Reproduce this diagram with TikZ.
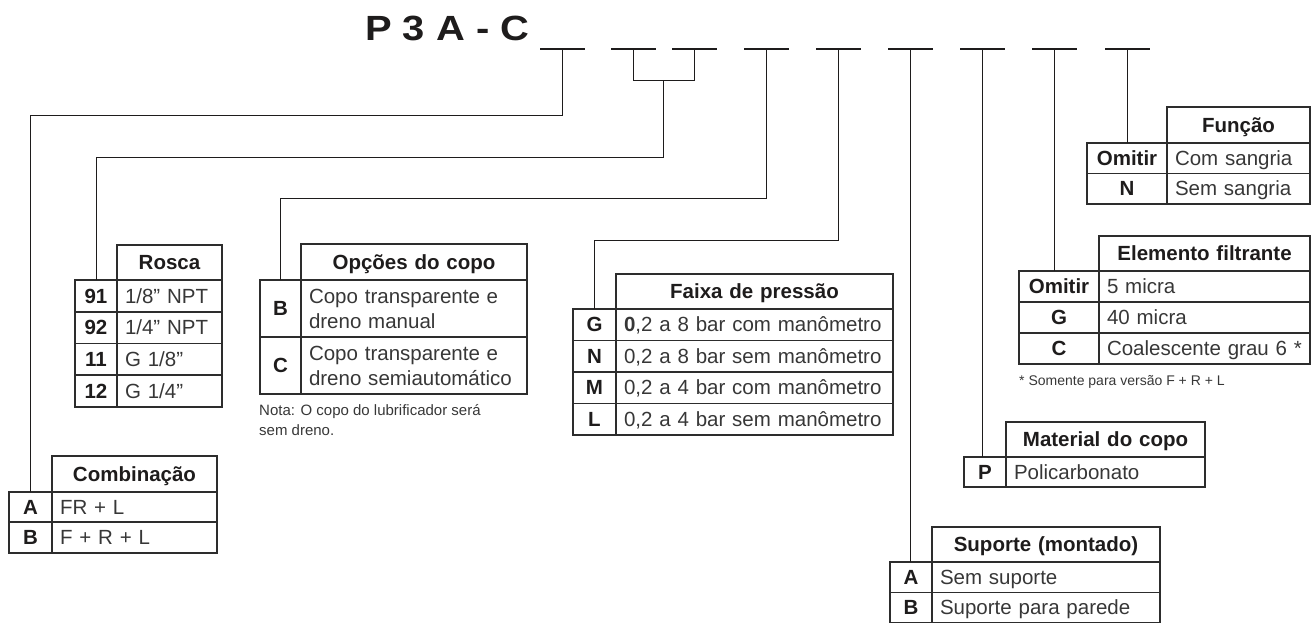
\documentclass[tikz,border=0pt]{standalone}
\usepackage{fontspec}
\usepackage{graphicx}
\setmainfont{Liberation Sans}
\usetikzlibrary{calc}
\definecolor{ink}{RGB}{30,28,28}
\definecolor{linec}{RGB}{45,45,45}
\definecolor{txt}{RGB}{55,55,55}
\newcommand\tabfont{\fontsize{20.5}{23.5}\selectfont}
\newcommand\tabbold{\fontsize{20.5}{23.5}\selectfont\bfseries}
\newcommand\notefont{\fontsize{15}{20}\selectfont}
\newcommand\cellstrut{\rule[-5pt]{0pt}{24pt}}
\newcommand\cellbox[8]{%
  \pgfmathsetmacro\cellW{#4-#2}%
  \pgfmathsetmacro\cellH{#5-#3}%
  \pgfmathsetmacro\cellT{#4-#2-2*#6}%
  \node[tcell,#7,minimum width=\cellW pt,minimum height=\cellH pt,text width=\cellT pt,inner xsep=#6pt] (#1) at (#2,#3) {#8};}
\tikzset{
  tcell/.style={draw=linec, line width=1.2pt, anchor=north west, inner ysep=0pt, outer sep=0pt,
    execute at begin node=\cellstrut, execute at end node=\cellstrut},
  val/.style={align=left, font=\tabfont, text=txt},
  key/.style={align=center, font=\tabbold, text=ink},
  ubar/.style={fill=ink, minimum width=45pt, minimum height=2.6pt, inner sep=0pt, outer sep=0pt},
  conn/.style={draw=ink, line width=1pt},
  notestyle/.style={font=\notefont, text=txt, inner sep=0pt, anchor=base west}
}
\begin{document}
\begin{tikzpicture}[x=1pt,y=-1pt]
\useasboundingbox (0,0) rectangle (1311,623);
% title
\node[font=\fontsize{35}{40}\selectfont\bfseries, text=ink, inner sep=0pt, anchor=base west] (title) at (365,41) {\scalebox{1.14}[1]{P 3 A - C}};
% underscores
\node[ubar] (d1) at (562,49) {};
\node[ubar] (d2) at (633,49) {};
\node[ubar] (d3) at (694,49) {};
\node[ubar] (d4) at (766,49) {};
\node[ubar] (d5) at (838,49) {};
\node[ubar] (d6) at (910,49) {};
\node[ubar] (d7) at (982,49) {};
\node[ubar] (d8) at (1054,49) {};
\node[ubar] (d9) at (1127,49) {};
\coordinate (h1) at (0,116);
\coordinate (j) at (0,81);
\coordinate (h3) at (0,157);
\coordinate (h4) at (0,198);
\coordinate (h5) at (0,240);

% Combinacao
\cellbox{combH}{52}{456}{217}{492}{2}{key}{Combinação}
\cellbox{combKA}{9}{492}{52}{522}{2}{key}{A}
\cellbox{combVA}{52}{492}{217}{522}{8}{val}{FR + L}
\cellbox{combKB}{9}{522}{52}{553}{2}{key}{B}
\cellbox{combVB}{52}{522}{217}{553}{8}{val}{F + R + L}

% Rosca
\cellbox{roscaH}{117}{245}{222}{280}{2}{key}{Rosca}
\cellbox{roscaK1}{75}{280}{117}{312}{2}{key}{91}
\cellbox{roscaV1}{117}{280}{222}{312}{8}{val}{1/8” NPT}
\cellbox{roscaK2}{75}{312}{117}{343.5}{2}{key}{92}
\cellbox{roscaV2}{117}{312}{222}{343.5}{8}{val}{1/4” NPT}
\cellbox{roscaK3}{75}{343.5}{117}{375}{2}{key}{11}
\cellbox{roscaV3}{117}{343.5}{222}{375}{8}{val}{G 1/8”}
\cellbox{roscaK4}{75}{375}{117}{407}{2}{key}{12}
\cellbox{roscaV4}{117}{375}{222}{407}{8}{val}{G 1/4”}

% Opcoes do copo
\cellbox{copoH}{301}{244}{527}{280}{2}{key}{Opções do copo}
\cellbox{copoKB}{260}{280}{301}{337}{2}{key}{B}
\cellbox{copoVB}{301}{280}{527}{337}{8}{val}{Copo transparente e\\dreno manual}
\cellbox{copoKC}{260}{337}{301}{394}{2}{key}{C}
\cellbox{copoVC}{301}{337}{527}{394}{8}{val}{Copo transparente e\\dreno semiautomático}
\node[notestyle] (nota1) at (259,415) {Nota: O copo do lubrificador será};
\node[notestyle] (nota2) at (259,435) {sem dreno.};

% Faixa de pressao
\cellbox{faixaH}{616}{274}{893}{309}{2}{key}{Faixa de pressão}
\cellbox{faixaKG}{573}{309}{616}{340.5}{2}{key}{G}
\cellbox{faixaVG}{616}{309}{893}{340.5}{8}{val}{{\bfseries 0},2 a 8 bar com manômetro}
\cellbox{faixaKN}{573}{340.5}{616}{372}{2}{key}{N}
\cellbox{faixaVN}{616}{340.5}{893}{372}{8}{val}{0,2 a 8 bar sem manômetro}
\cellbox{faixaKM}{573}{372}{616}{403.5}{2}{key}{M}
\cellbox{faixaVM}{616}{372}{893}{403.5}{8}{val}{0,2 a 4 bar com manômetro}
\cellbox{faixaKL}{573}{403.5}{616}{435}{2}{key}{L}
\cellbox{faixaVL}{616}{403.5}{893}{435}{8}{val}{0,2 a 4 bar sem manômetro}

% Suporte
\cellbox{supH}{932}{527}{1160}{562}{2}{key}{Suporte (montado)}
\cellbox{supKA}{890}{562}{932}{592.5}{2}{key}{A}
\cellbox{supVA}{932}{562}{1160}{592.5}{8}{val}{Sem suporte}
\cellbox{supKB}{890}{592.5}{932}{622.3}{2}{key}{B}
\cellbox{supVB}{932}{592.5}{1160}{622.3}{8}{val}{Suporte para parede}

% Material
\cellbox{matH}{1006}{422}{1205}{457}{2}{key}{Material do copo}
\cellbox{matKP}{964}{457}{1006}{487}{2}{key}{P}
\cellbox{matVP}{1006}{457}{1205}{487}{8}{val}{Policarbonato}

% Elemento filtrante
\cellbox{eleH}{1099}{236}{1310}{271}{2}{key}{Elemento filtrante}
\cellbox{eleKO}{1019}{271}{1099}{302}{2}{key}{Omitir}
\cellbox{eleVO}{1099}{271}{1310}{302}{8}{val}{5 micra}
\cellbox{eleKG}{1019}{302}{1099}{333}{2}{key}{G}
\cellbox{eleVG}{1099}{302}{1310}{333}{8}{val}{40 micra}
\cellbox{eleKC}{1019}{333}{1099}{364}{2}{key}{C}
\cellbox{eleVC}{1099}{333}{1310}{364}{8}{val}{Coalescente grau 6 *}
\node[notestyle, font=\fontsize{14}{18}\selectfont] (foot) at (1019,385) {* Somente para versão F + R + L};

% Funcao
\cellbox{funH}{1167}{107}{1310}{143}{2}{key}{Função}
\cellbox{funKO}{1087}{143}{1167}{173.5}{2}{key}{Omitir}
\cellbox{funVO}{1167}{143}{1310}{173.5}{8}{val}{Com sangria}
\cellbox{funKN}{1087}{173.5}{1167}{204}{2}{key}{N}
\cellbox{funVN}{1167}{173.5}{1310}{204}{8}{val}{Sem sangria}

% connectors
\draw[conn] (d1.center) -- (d1.center |- h1) -| (combKA.north);
\draw[conn] (d2.center) |- (d3.center |- j) -- (d3.center);
\coordinate (m23) at ($(d2.center |- j)!0.5!(d3.center |- j)$);
\draw[conn] (m23) -- (m23 |- h3) -| (roscaK1.north);
\draw[conn] (d4.center) -- (d4.center |- h4) -| (copoKB.north);
\draw[conn] (d5.center) -- (d5.center |- h5) -| (faixaKG.north);
\draw[conn] (d6.center) -- (d6.center |- supKA.north);
\draw[conn] (d7.center) -- (d7.center |- matKP.north);
\draw[conn] (d8.center) -- (d8.center |- eleKO.north);
\draw[conn] (d9.center) -- (d9.center |- funKO.north);
\end{tikzpicture}
\end{document}
